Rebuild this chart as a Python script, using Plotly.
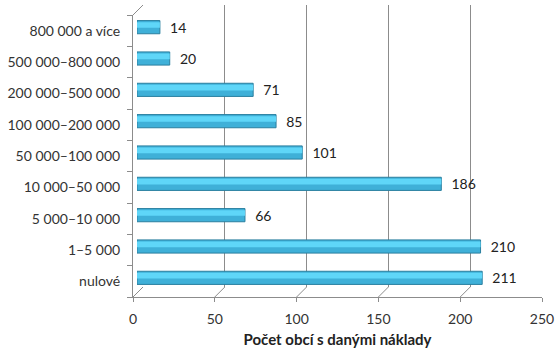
import plotly.graph_objects as go

categories = ["nulové", "1–5 000", "5 000–10 000", "10 000–50 000", "50 000–100 000",
              "100 000–200 000", "200 000–500 000", "500 000–800 000", "800 000 a více"]
values = [211, 210, 66, 186, 101, 85, 71, 20, 14]
x_ticks = [0, 50, 100, 150, 200, 250]
x_title = "Počet obcí s danými náklady"

W, H = 560, 355
def fx(p): return p / W
def fy(p): return 1 - p / H

FONT = "Lato"
GRID = "#8c8c8c"

fig = go.Figure()

# bars on a slightly shifted axis (depth effect)
fig.add_trace(go.Bar(
    y=categories, x=values, orientation="h",
    xaxis="x3", yaxis="y3",
    width=0.42,
    marker=dict(color="#3fb0d8", line=dict(color="#2a7f9f", width=1)),
    text=["\u00a0\u00a0" + str(v) for v in values], textposition="outside", constraintext="none",
    textfont=dict(family=FONT, size=14, color="#222"),
    cliponaxis=False, hoverinfo="skip",
))
# highlight band for cylinder look
fig.add_trace(go.Bar(
    y=categories, x=values, orientation="h",
    xaxis="x3", yaxis="y3", width=0.18, offset=-0.02,
    marker=dict(color="#5fd6f8", line=dict(width=0)),
    hoverinfo="skip", showlegend=False,
))
# invisible traces to activate front and back axes
fig.add_trace(go.Bar(y=categories, x=[0]*len(categories), orientation="h",
                     xaxis="x", yaxis="y", hoverinfo="skip", marker=dict(color="rgba(0,0,0,0)")))
fig.add_trace(go.Bar(y=categories, x=[0]*len(categories), orientation="h",
                     xaxis="x2", yaxis="y2", hoverinfo="skip", marker=dict(color="rgba(0,0,0,0)")))

fig.update_layout(
    template="none",
    width=W, height=H, margin=dict(l=0, r=0, t=0, b=0, pad=0), autosize=False,
    paper_bgcolor="white", plot_bgcolor="rgba(0,0,0,0)",
    showlegend=False, barmode="overlay",
    font=dict(family=FONT, size=14, color="#333"),
    # front axes
    xaxis=dict(domain=[fx(133), fx(542)], range=[0, 250], tickvals=x_ticks, automargin=False,
               showgrid=False, zeroline=False, showline=True, linecolor=GRID, linewidth=1,
               ticks="outside", ticklen=4, tickcolor=GRID, ticklabelstandoff=5,
               tickfont=dict(family=FONT, size=14, color="#333"),
               title=dict(text="<b>" + x_title + "</b>", font=dict(family=FONT, size=15, color="#222"), standoff=8),
               anchor="y", fixedrange=True),
    yaxis=dict(domain=[fy(297), fy(15)], type="category", categoryorder="array", categoryarray=categories,
               automargin=False,
               showgrid=False, zeroline=False, showline=True, linecolor=GRID, linewidth=1,
               ticks="outside", ticklen=5, tickcolor=GRID, tickson="boundaries",
               tickfont=dict(family=FONT, size=14, color="#333"), ticklabelstandoff=9,
               anchor="x", fixedrange=True),
    # back wall axes (gridlines)
    xaxis2=dict(domain=[fx(143), fx(552)], range=[0, 250], tickvals=x_ticks[1:], automargin=False,
                showgrid=True, gridcolor=GRID, gridwidth=1, zeroline=False,
                showticklabels=False, showline=False, anchor="y2", fixedrange=True),
    yaxis2=dict(domain=[fy(287), fy(5)], type="category", categoryorder="array", categoryarray=categories,
                automargin=False, showgrid=False, zeroline=False, showticklabels=False, showline=False,
                anchor="x2", fixedrange=True),
    # bar axes
    xaxis3=dict(domain=[fx(137), fx(546)], range=[0, 250], visible=False, anchor="y3",
                automargin=False, fixedrange=True),
    yaxis3=dict(domain=[fy(293.5), fy(11.5)], type="category", categoryorder="array", categoryarray=categories,
                visible=False, anchor="x3", automargin=False, fixedrange=True),
)

shapes = []
yb = fy(297)
for v in x_ticks:
    shapes.append(dict(type="line", xref="x", yref="paper", xsizemode="pixel", ysizemode="pixel",
                       xanchor=v, yanchor=yb, x0=0, x1=10, y0=0, y1=10,
                       line=dict(color=GRID, width=1)))
shapes.append(dict(type="line", xref="x", yref="paper", xsizemode="pixel", ysizemode="pixel",
                   xanchor=0, yanchor=fy(15), x0=0, x1=10, y0=0, y1=10,
                   line=dict(color=GRID, width=1)))
fig.update_layout(shapes=shapes)

fig.write_html("out.html")
